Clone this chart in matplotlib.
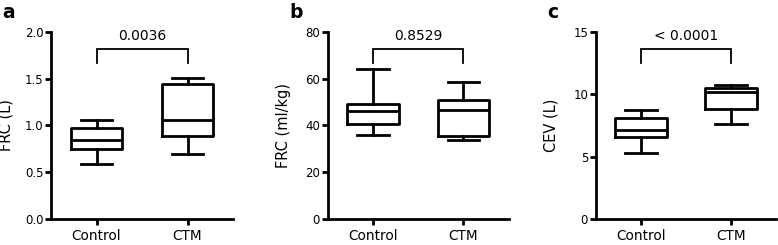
import matplotlib
matplotlib.use("Agg")
import matplotlib.pyplot as plt

groups = ["Control", "CTM"]
panel_tags = ["a", "b", "c"]
y_labels = ["FRC (L)", "FRC (ml/kg)", "CEV (L)"]
p_values = ["0.0036", "0.8529", "< 0.0001"]
y_max = [2.0, 80, 15]
y_ticks = [[0.0, 0.5, 1.0, 1.5, 2.0], [0, 20, 40, 60, 80], [0, 5, 10, 15]]
y_fmt = ["{:.1f}", "{:.0f}", "{:.0f}"]

# box stats per panel: [Control, CTM]
whis_lo = [[0.59, 0.70], [36.0, 33.8], [5.3, 7.6]]
q1 = [[0.745, 0.885], [40.7, 35.5], [6.56, 8.8]]
median = [[0.85, 1.06], [46.3, 46.7], [7.15, 10.15]]
q3 = [[0.97, 1.44], [49.0, 51.0], [8.12, 10.5]]
whis_hi = [[1.06, 1.505], [64.2, 58.4], [8.78, 10.78]]

plt.rcParams["font.family"] = ["DejaVu Sans"]

fig = plt.figure(figsize=(7.78, 2.45), dpi=100)
W, H = 778, 245
ax_left = [51, 327.7, 595.7]
ax_width = [182, 181, 180.5]
tag_x = [2, 289, 547]

for i in range(3):
    ax = fig.add_axes([ax_left[i] / W, 26 / H, ax_width[i] / W, 187 / H])
    stats = []
    for j, g in enumerate(groups):
        stats.append(dict(label=g, whislo=whis_lo[i][j], q1=q1[i][j], med=median[i][j],
                          q3=q3[i][j], whishi=whis_hi[i][j], fliers=[]))
    lp = dict(color="black", linewidth=2.0)
    ax.bxp(stats, positions=[1, 2], widths=0.57, capwidths=0.35, showfliers=False,
           boxprops=lp, whiskerprops=lp, capprops=lp, medianprops=lp)

    ax.set_xlim(0.5, 2.5)
    ax.set_ylim(0, y_max[i])
    ax.set_yticks(y_ticks[i])
    ax.set_yticklabels([y_fmt[i].format(t) for t in y_ticks[i]])
    ax.spines["top"].set_visible(False)
    ax.spines["right"].set_visible(False)
    for s in ["left", "bottom"]:
        ax.spines[s].set_linewidth(2.0)
    ax.tick_params(axis="y", direction="out", length=4, width=2.0, pad=1.5, labelsize=8.5)
    ax.tick_params(axis="x", direction="out", length=4, width=2.0, pad=3.5, labelsize=9.8)
    ax.set_ylabel(y_labels[i], fontsize=10.5)
    ax.yaxis.set_label_coords(-37 / ax_width[i], 0.5)

    top = 0.91 * y_max[i]
    bot = 0.835 * y_max[i]
    ax.plot([1, 1, 2, 2], [bot, top, top, bot], color="black", linewidth=1.3,
            clip_on=False, solid_joinstyle="miter")
    ax.annotate(p_values[i], xy=(1.5, top), xytext=(0, 9), textcoords="offset points",
                ha="center", va="center", fontsize=10)

    fig.text(tag_x[i] / W, 1 - 12 / H, panel_tags[i], fontsize=13.5, fontweight="bold",
             ha="left", va="center")

fig.savefig("out.png", dpi=100)
